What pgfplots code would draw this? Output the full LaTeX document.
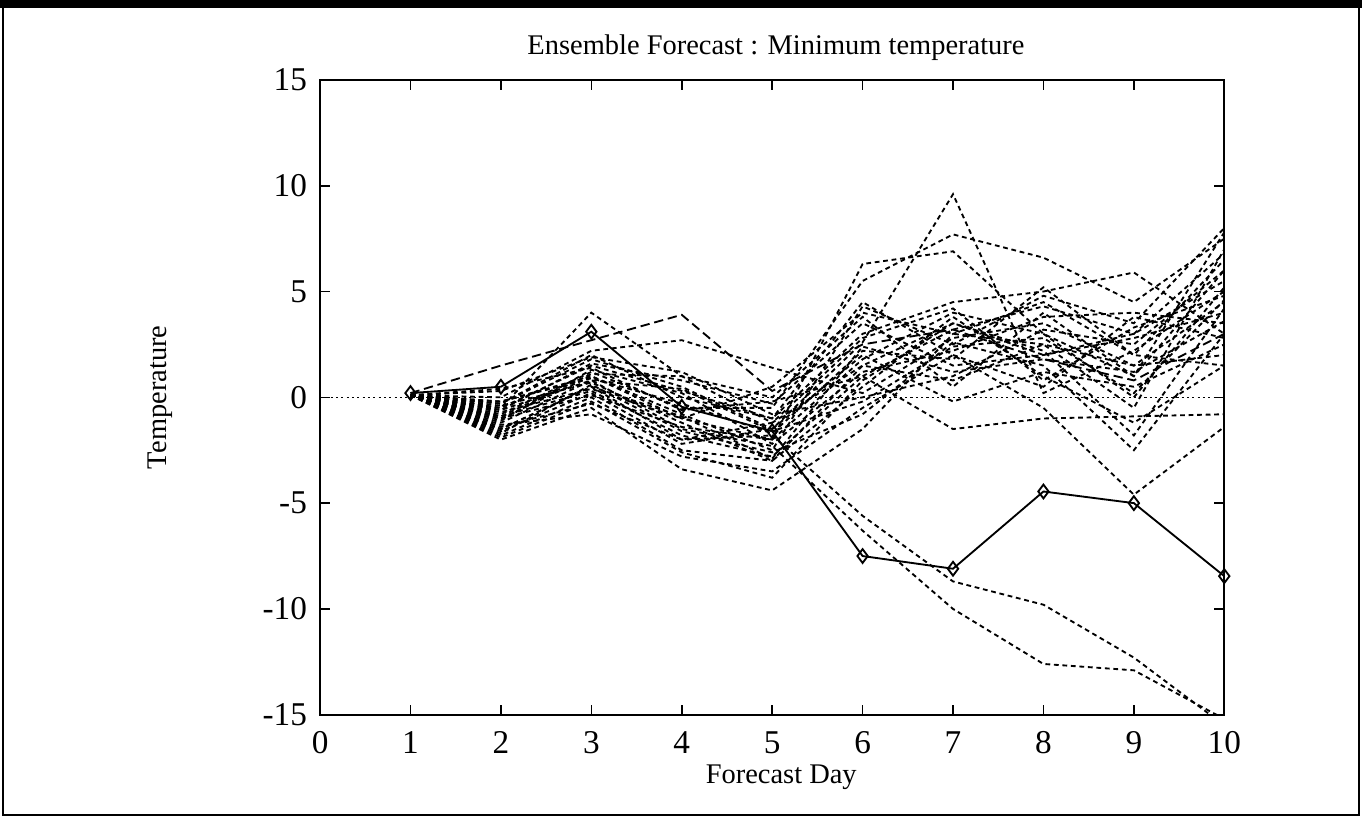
\documentclass[border=0pt]{standalone}
\usepackage{pgfplots}
\pgfplotsset{compat=1.18}
\usepackage{fontspec}
\setmainfont{Liberation Serif}

% ensemble members, day 1..10
\pgfplotstableread{
d  m1   m2   m3   m4   m5   m6   m7    m8    m9   m10  m11  m12  m13  m14  m15  m16  m17  m18  m19  m20  m21  m22  m23  m24  m25  m26  m27  m28  m29  m30
1  0.2  0.1  0.1  0.1  0.1  0.1  0.1   0.1   0.1  0.1  0.1  0.1  0.1  0.1  0.1  0.1  0.1  0.1  0.1  0.1  0.1  0.1  0.1  0.1  0.1  0.1  0.1  0.1  0.1  0.1
2  1.5 -0.5  0.0 -0.3 -1.0 -0.8 -1.5  -1.2  -0.5 -0.2 -1.8 -2.0 -1.3 -0.9 -0.6 -1.6 -0.4 -1.1 -0.7 -1.4  0.3 -0.2 -1.7 -0.9 -1.9 -0.3 -1.0  0.4 -1.5 -0.6
3  2.7  4.0  2.2  1.8  1.0  1.2  0.5   0.8   1.5  1.0  0.0 -0.5 -0.8  0.3  1.6  0.2  0.7  1.3  0.4 -0.3  1.9  0.9  0.6  1.1 -0.2  2.0  0.1  1.4  0.5  0.8
4  3.9  1.0  2.7  0.5 -1.0 -0.5 -2.0  -1.5   0.3 -0.8 -2.5 -3.4 -2.8 -1.8  0.8 -2.2 -1.2  0.2 -1.0 -2.0  1.2 -0.3 -1.6  1.0 -2.6  0.0 -1.4 -0.6 -0.9  0.4
5  0.3 -1.2  1.4 -1.5 -2.0 -0.5 -1.8  -2.3  -1.0 -2.5 -3.0 -4.4 -3.5 -2.8 -0.3 -1.5 -3.0 -2.2  0.5 -1.2 -0.8 -1.7 -2.6  0.0 -3.8 -1.0 -2.0 -0.2 -2.9 -1.6
6  2.5  1.5  0.2  2.6  6.3  5.5 -5.6  -6.3   3.0  4.3  1.5 -1.5 -0.5  1.0  3.5  2.0  0.5  1.2  4.0  2.8  0.0  2.2 -0.8  3.8  0.8  4.5  1.8  1.0  2.4 -0.2
7  3.2  3.5  2.8  9.6  6.9  7.7 -8.7 -10.0   4.5  2.5  0.8  3.0  2.0 -1.5  1.5 -0.2  3.8  2.2  3.0  4.2  1.0  1.8  2.6  0.5  3.5  2.0  4.0  3.2  1.2  2.4
8  1.8  2.0  3.5  0.2  3.0  6.6 -9.8 -12.6   5.0  4.8  2.5  4.5 -0.5 -1.0  2.0  1.2  1.0  3.8  2.5  0.8  3.2  5.2  1.5  4.0  2.2  0.5  3.0  4.3  1.8  2.8
9  0.8  3.0  1.5  2.2  1.0  4.5 -12.3 -12.9  5.9  3.5 -0.5  2.0 -4.6 -0.9  2.8  0.5 -1.2  4.0  1.5  3.3  2.5  2.0 -2.5  1.0 -1.8  3.8  0.0  3.0  1.2  0.2
10 3.0  5.5  4.5  5.0  6.0  7.5 -15.5 -15.2  3.0  8.0  7.0  6.5 -1.4 -0.8  4.0  2.5  1.5  3.5  2.0  4.8  6.0  1.5  3.0  7.8  4.2  2.8  5.2  6.8  3.6  4.6
}\members

\begin{document}
\begin{tikzpicture}
\useasboundingbox (0,0) rectangle (18,10.82);
\fill[black] (0,10.71) rectangle (18,10.82);
\draw[line width=0.9pt] (0.04,0.05) rectangle (17.96,10.75);
\begin{axis}[
  at={(4.23cm,1.374cm)}, anchor=south west,
  scale only axis, width=11.95cm, height=8.39cm,
  xmin=0, xmax=10, ymin=-15, ymax=15,
  xtick={0,1,...,10},
  xticklabels={0,1,2,3,4,5,6,7,8,9,10},
  ytick={-15,-10,-5,0,5,10,15},
  yticklabels={-15,-10,-5,0,5,10,15},
  tick align=inside, major tick length=0.13cm,
  tick style={black, line width=0.6pt},
  axis line style={line width=0.8pt},
  ticklabel style={font=\fontsize{12.5}{14}\selectfont},
  xticklabel style={yshift=-0.1cm},
  yticklabel style={xshift=-0.05cm},
  title={Ensemble Forecast : Minimum temperature},
  title style={font=\fontsize{10.7}{13}\selectfont, yshift=-0.08cm, xshift=0.05cm},
  xlabel={Forecast Day},
  xlabel style={font=\fontsize{10.7}{13}\selectfont, yshift=0.1cm, xshift=0.12cm},
  ylabel={Temperature},
  ylabel style={font=\fontsize{10.7}{13}\selectfont, yshift=0.95cm},
  clip=true,
]
\addplot[black, line width=0.5pt, dash pattern=on 0.8pt off 1.2pt] coordinates {(0,0) (10,0)};
\addplot[black, line width=0.7pt, dash pattern=on 3.5pt off 1.8pt] table[x=d, y=m1] {\members};
\foreach \k in {2,...,30} {
  \addplot[black, line width=0.7pt, dash pattern=on 1.8pt off 1.4pt] table[x=d, y=m\k] {\members};
}
\addplot[black, line width=0.7pt, mark=diamond, mark size=2.6pt, mark options={solid, fill=white}] coordinates {
  (1,0.2) (2,0.5) (3,3.1) (4,-0.45) (5,-1.6) (6,-7.5) (7,-8.1) (8,-4.45) (9,-5.0) (10,-8.45)
};
\end{axis}
\end{tikzpicture}
\end{document}
